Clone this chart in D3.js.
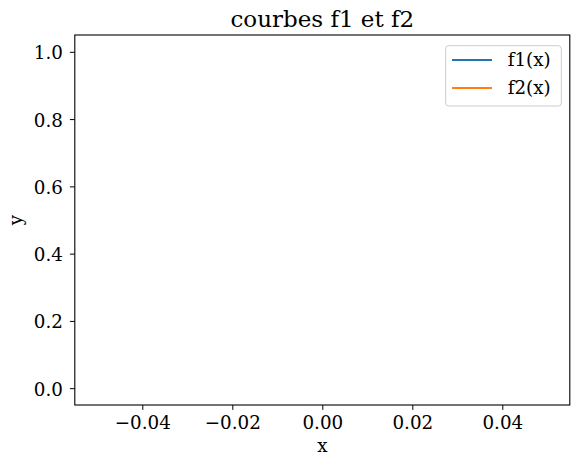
<!DOCTYPE html>
<html>
<head>
<meta charset="UTF-8">
<script src="https://d3js.org/d3.v7.min.js"></script>
<style>
  body { margin: 0; background: #fff; }
  svg text { font-family: "DejaVu Serif", serif; fill: #000; }
</style>
</head>
<body>
<div id="chart"></div>
<script>
// chart data: both series are empty in the reference
const seriesNames = ["f1(x)", "f2(x)"];
const seriesColors = ["#1f77b4", "#ff7f0e"];
const f1Points = [];
const f2Points = [];
const xTicks = [-0.04, -0.02, 0.00, 0.02, 0.04];
const yTicks = [0.0, 0.2, 0.4, 0.6, 0.8, 1.0];
const xDomain = [-0.055, 0.055];
const yDomain = [-0.05, 1.05];

const W = 580, H = 466;
const margin = {top: 35, right: 10.2, bottom: 61, left: 74.8};
const width = W - margin.left - margin.right,
      height = H - margin.top - margin.bottom;
const fs = 18.3;

const svg = d3.select("#chart").append("svg")
    .attr("width", W).attr("height", H);

const g = svg.append("g")
    .attr("transform", `translate(${margin.left},${margin.top})`);

const x = d3.scaleLinear().domain(xDomain).range([0, width]);
const y = d3.scaleLinear().domain(yDomain).range([height, 0]);

const fmtMinus = s => s.replace("-", "\u2212");

// x axis
const xAxis = g.append("g")
    .attr("transform", `translate(0,${height})`)
    .call(d3.axisBottom(x).tickValues(xTicks).tickSizeOuter(0).tickSize(4.9).tickPadding(6)
      .tickFormat(d => fmtMinus(d3.format(".2f")(d))));
xAxis.attr("font-family", null);
xAxis.select(".domain").remove();
xAxis.selectAll("line").attr("stroke", "#000").attr("stroke-width", 1);
xAxis.selectAll("text").attr("font-size", fs + "px");

// y axis
const yAxis = g.append("g")
    .call(d3.axisLeft(y).tickValues(yTicks).tickSizeOuter(0).tickSize(4.9).tickPadding(7)
      .tickFormat(d3.format(".1f")));
yAxis.attr("font-family", null);
yAxis.select(".domain").remove();
yAxis.selectAll("line").attr("stroke", "#000").attr("stroke-width", 1);
yAxis.selectAll("text").attr("font-size", fs + "px").attr("dy", "0.38em");

// lines (empty)
const line = d3.line().x(d => x(d[0])).y(d => y(d[1]));
[f1Points, f2Points].forEach((pts, i) => {
  g.append("path")
    .datum(pts)
    .attr("fill", "none")
    .attr("stroke", seriesColors[i])
    .attr("stroke-width", 2)
    .attr("d", line);
});

// frame
g.append("rect")
    .attr("width", width).attr("height", height)
    .attr("fill", "none").attr("stroke", "#000").attr("stroke-width", 1.1);

// title and labels
svg.append("text")
    .attr("x", margin.left + width / 2).attr("y", 26.5)
    .attr("text-anchor", "middle").attr("font-size", "23px")
    .text("courbes f1 et f2");

svg.append("text")
    .attr("x", margin.left + width / 2).attr("y", 452)
    .attr("text-anchor", "middle").attr("font-size", fs + "px")
    .text("x");

svg.append("text")
    .attr("transform", `translate(22.2,${margin.top + height / 2}) rotate(-90)`)
    .attr("text-anchor", "middle").attr("font-size", fs + "px")
    .text("y");

// legend
const leg = svg.append("g").attr("transform", "translate(445.7,45.7)");
leg.append("rect")
    .attr("width", 115.6).attr("height", 60.3).attr("rx", 3)
    .attr("fill", "#fff").attr("fill-opacity", 0.8)
    .attr("stroke", "#ccc").attr("stroke-width", 1);
seriesNames.forEach((name, i) => {
  const yy = 14.3 + i * 28;
  leg.append("line")
    .attr("x1", 6.3).attr("x2", 46.3).attr("y1", yy).attr("y2", yy)
    .attr("stroke", seriesColors[i]).attr("stroke-width", 2);
  leg.append("text")
    .attr("x", 62).attr("y", yy + 6.5)
    .attr("font-size", fs + "px")
    .text(name);
});
</script>
</body>
</html>
